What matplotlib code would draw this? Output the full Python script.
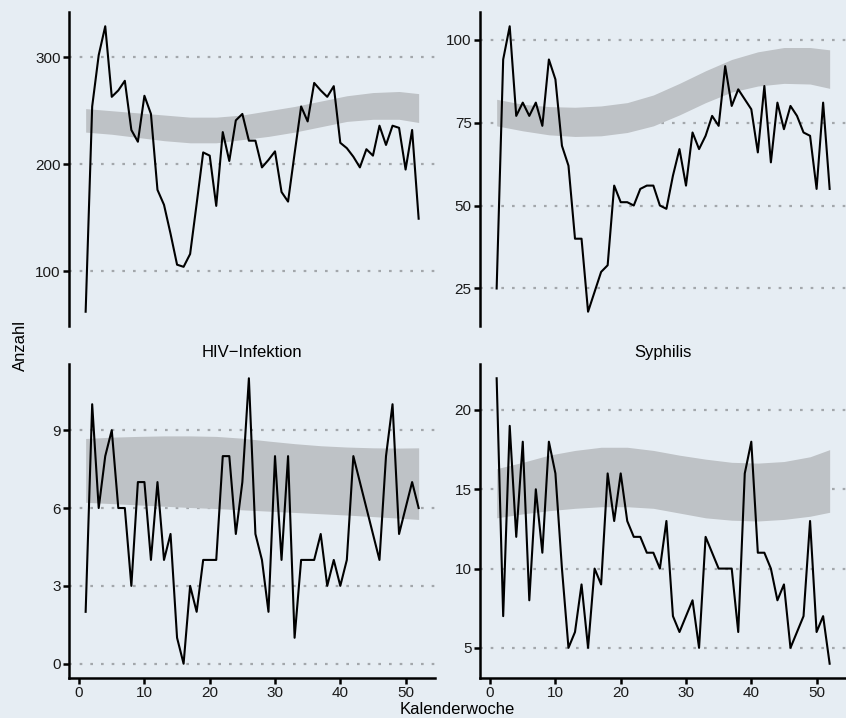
import matplotlib
matplotlib.use("Agg")
import matplotlib.pyplot as plt

plt.rcParams['font.family'] = ['Liberation Sans', 'DejaVu Sans']

weeks = list(range(1, 53))
band_weeks = [1, 5, 9, 13, 17, 21, 25, 29, 33, 37, 41, 45, 49, 52]

# oben links
counts_tl = [62, 254, 302, 329, 263, 269, 278, 232, 221, 264,
             247, 176, 162, 135, 106, 104, 116, 163, 211, 208,
             161, 230, 203, 241, 247, 222, 222, 197, 204, 212,
             174, 165, 210, 254, 240, 276, 269, 263, 273, 220,
             215, 207, 197, 214, 208, 236, 218, 236, 234, 195,
             232, 149]
upper_tl = [252, 250, 248, 246, 244, 244, 246, 250, 254, 259, 264, 267, 268, 266]
lower_tl = [230, 228, 225, 222, 220, 220, 223, 226, 230, 235, 240, 242, 242, 239]

# oben rechts
counts_tr = [25, 94, 104, 77, 81, 77, 81, 74, 94, 88,
             68, 62, 40, 40, 18, 24, 30, 32, 56, 51,
             51, 50, 55, 56, 56, 50, 49, 59, 67, 56,
             72, 67, 71, 77, 74, 92, 80, 85, 82, 79,
             66, 86, 63, 81, 73, 80, 77, 72, 71, 55,
             81, 55]
upper_tr = [82.0, 80.5, 79.8, 79.6, 80.0, 81.0, 83.3, 86.8, 90.6, 94.0, 96.3, 97.6, 97.6, 96.9]
lower_tr = [74.0, 72.5, 71.3, 70.8, 71.0, 72.0, 74.0, 77.3, 81.0, 84.2, 86.0, 86.8, 86.6, 85.3]

# HIV-Infektion
counts_hiv = [2, 10, 6, 8, 9, 6, 6, 3, 7, 7,
              4, 7, 4, 5, 1, 0, 3, 2, 4, 4,
              4, 8, 8, 5, 7, 11, 5, 4, 2, 8,
              4, 8, 1, 4, 4, 4, 5, 3, 4, 3,
              4, 8, 7, 6, 5, 4, 8, 10, 5, 6,
              7, 6]
upper_hiv = [8.68, 8.73, 8.76, 8.78, 8.78, 8.76, 8.69, 8.58, 8.48, 8.40, 8.35, 8.32, 8.31, 8.32]
lower_hiv = [6.22, 6.17, 6.12, 6.07, 6.02, 5.98, 5.93, 5.88, 5.83, 5.78, 5.73, 5.67, 5.61, 5.56]

# Syphilis
counts_syph = [22, 7, 19, 12, 18, 8, 15, 11, 18, 16,
               10, 5, 6, 9, 5, 10, 9, 16, 13, 16,
               13, 12, 12, 11, 11, 10, 13, 7, 6, 7,
               8, 5, 12, 11, 10, 10, 10, 6, 16, 18,
               11, 11, 10, 8, 9, 5, 6, 7, 13, 6,
               7, 4]
upper_syph = [16.3, 16.7, 17.15, 17.45, 17.65, 17.65, 17.45, 17.15, 16.9, 16.7, 16.65, 16.75, 17.05, 17.5]
lower_syph = [13.2, 13.45, 13.65, 13.8, 13.9, 13.9, 13.8, 13.5, 13.2, 13.05, 13.0, 13.1, 13.3, 13.55]

panels = [
    ("", counts_tl, upper_tl, lower_tl, [100, 200, 300]),
    ("", counts_tr, upper_tr, lower_tr, [25, 50, 75, 100]),
    ("HIV\u2212Infektion", counts_hiv, upper_hiv, lower_hiv, [0, 3, 6, 9]),
    ("Syphilis", counts_syph, upper_syph, lower_syph, [5, 10, 15, 20]),
]

bg = "#e6edf3"
fig = plt.figure(figsize=(8.46, 7.18), dpi=100, facecolor=bg)

w = 366.3 / 846
h = 314 / 718
positions = [
    (69 / 846, (718 - 326) / 718),
    (480 / 846, (718 - 326) / 718),
    (69 / 846, (718 - 678) / 718),
    (480 / 846, (718 - 678) / 718),
]

for i, (title, counts, upper, lower, yticks) in enumerate(panels):
    left, bottom = positions[i]
    ax = fig.add_axes([left, bottom, w, h])
    ax.set_facecolor(bg)
    ax.fill_between(band_weeks, lower, upper, color="#bec2c6", lw=0, zorder=2)
    ax.plot(weeks, counts, color="black", lw=1.5, zorder=3)
    ax.set_xlim(-1.55, 54.55)
    ax.set_yticks(yticks)
    for t in yticks:
        ax.axhline(t, color="#a3a7ab", lw=1.6, ls=(0, (1.2, 3.6)), zorder=1)
    for s in ["top", "right"]:
        ax.spines[s].set_visible(False)
    ax.spines["left"].set_linewidth(1.8)
    ax.tick_params(axis="y", length=4, width=1.8, labelsize=11, pad=2,
                   colors="black", labelcolor="#1a1a1a")
    if i < 2:
        ax.spines["bottom"].set_visible(False)
        ax.set_xticks([])
    else:
        ax.spines["bottom"].set_linewidth(1.8)
        ax.set_xticks([0, 10, 20, 30, 40, 50])
        ax.tick_params(axis="x", length=4, width=1.8, labelsize=11, pad=2,
                       labelcolor="#1a1a1a")
        ax.set_title(title, fontsize=12, pad=5)

# Achsentitel mittig über der Panelfläche
fig.text(20 / 846, 1 - 345 / 718, "Anzahl", rotation=90, ha="center", va="center", fontsize=12)
fig.text(457.5 / 846, 9 / 718, "Kalenderwoche", ha="center", va="center", fontsize=12)

fig.savefig("out.png", dpi=100, facecolor=bg)
